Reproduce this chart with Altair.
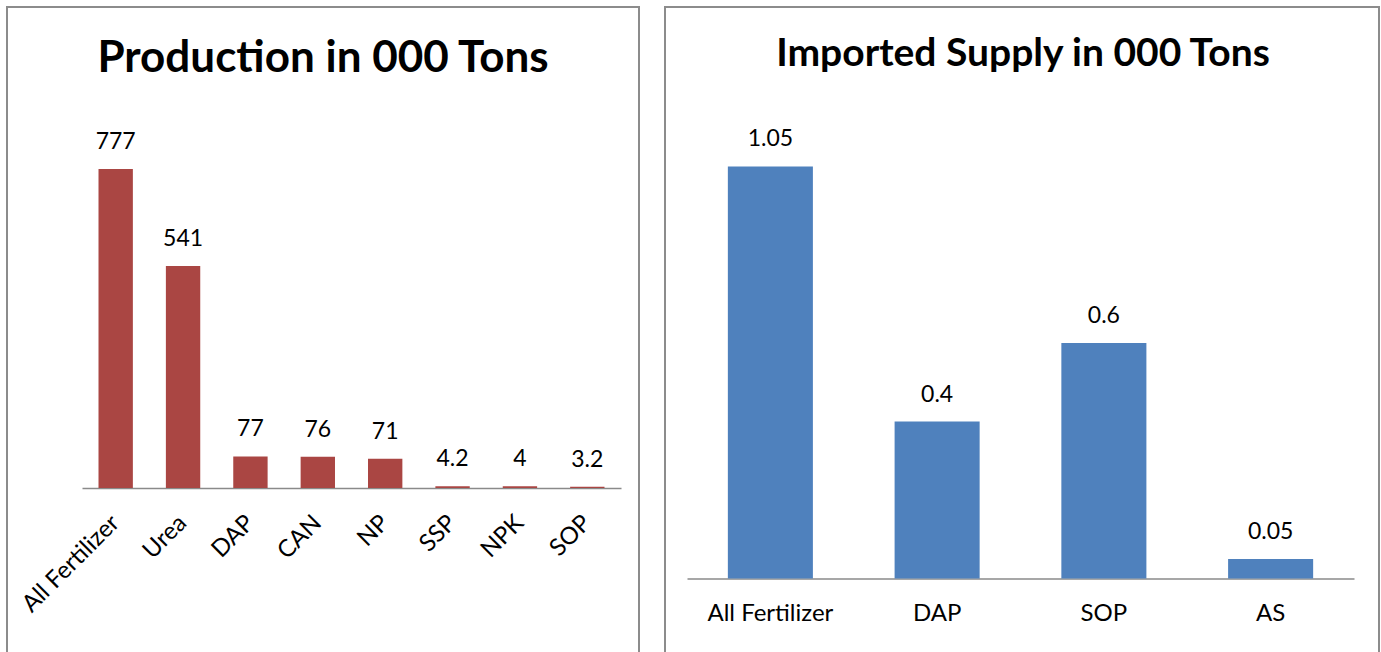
import altair as alt
import pandas as pd

# Production (000 tons) by fertilizer type
prod_categories = ["All Fertilizer", "Urea", "DAP", "CAN", "NP", "SSP", "NPK", "SOP"]
prod_values = [777, 541, 77, 76, 71, 4.2, 4, 3.2]

# Imported supply (000 tons) by fertilizer type
import_categories = ["All Fertilizer", "DAP", "SOP", "AS"]
import_values = [1.05, 0.4, 0.6, 0.05]

prod_title = "Production in 000 Tons"
import_title = "Imported Supply in 000 Tons"

RED = "#AA4643"
BLUE = "#4F81BD"
FRAME = "#8C8C8C"
AXIS = "#8A8A8A"
FONT = "Lato"
W, H = 1381, 652

prod = pd.DataFrame({"category": prod_categories, "value": prod_values})
imp = pd.DataFrame({"category": import_categories, "value": import_values})


def bar_panel(df, color, x_range, y_domain, y_range, axis):
    x = alt.X(
        "category:N",
        sort=None,
        scale=alt.Scale(range=x_range, paddingInner=0.49, paddingOuter=0.245),
        axis=axis,
    )
    y = alt.Y(
        "value:Q",
        scale=alt.Scale(domain=y_domain, range=y_range, nice=False, zero=True),
        axis=None,
    )
    bars = alt.Chart(df).mark_bar(color=color).encode(x=x, y=y)
    labels = alt.Chart(df).mark_text(
        font=FONT, fontSize=23, color="black", baseline="alphabetic", dy=-20
    ).encode(x=x, y=y, text=alt.Text("value:Q"))
    return alt.layer(bars, labels)


common_axis = dict(
    title=None,
    orient="bottom",
    ticks=False,
    grid=False,
    domainColor=AXIS,
    domainWidth=1.5,
    labelFont=FONT,
    labelFontSize=24,
    labelColor="black",
    labelOverlap=False,
    labelLimit=400,
)

left_axis = alt.Axis(
    offset=-(H - 488),
    labelAngle=-45,
    labelAlign="right",
    labelBaseline="middle",
    labelPadding=31,
    **common_axis,
)
right_axis = alt.Axis(
    offset=-(H - 578.5),
    labelAngle=0,
    labelAlign="center",
    labelBaseline="alphabetic",
    labelPadding=42,
    **common_axis,
)

left = bar_panel(prod, RED, [82, 621], [0, 900], [488, 118.5], left_axis)
right = bar_panel(imp, BLUE, [687, 1354], [0, 1.2], [578.5, 107.6], right_axis)


def frame(name, x0, x1):
    return alt.Chart(pd.DataFrame({"panel": [name]})).mark_rect(
        fillOpacity=0, stroke=FRAME, strokeWidth=2
    ).encode(x=alt.value(x0), x2=alt.value(x1), y=alt.value(7), y2=alt.value(H + 40))


def heading(text, cx, base, size):
    return alt.Chart(pd.DataFrame({"title": [text]})).mark_text(
        font=FONT, fontSize=size, fontWeight="bold", color="black",
        align="center", baseline="alphabetic",
    ).encode(text="title:N", x=alt.value(cx), y=alt.value(base))


chart = alt.layer(
    frame(prod_title, 7, 639),
    frame(import_title, 665, 1379),
    left,
    right,
    heading(prod_title, 323, 72, 44),
    heading(import_title, 1023, 66, 39),
).resolve_scale(
    x="independent", y="independent"
).properties(
    width=W,
    height=H,
    padding=0,
    autosize=alt.AutoSizeParams(type="none"),
    background="white",
).configure_view(stroke="transparent")

chart.save("out.html", embed_options={"renderer": "svg", "actions": False})
